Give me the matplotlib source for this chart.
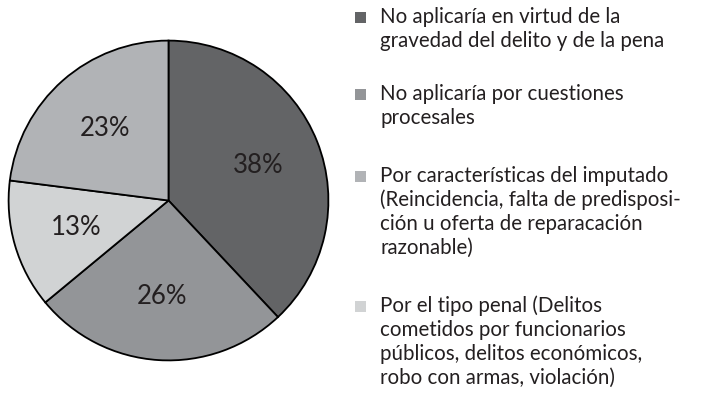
import matplotlib.pyplot as plt
from matplotlib.patches import Rectangle

plt.rcParams['font.family'] = ['Lato', 'DejaVu Sans']

# shares in the order they go round the pie (clockwise from 12 o'clock)
valores = [38, 26, 13, 23]
colores = ['#636466', '#939598', '#d1d3d4', '#b1b3b6']

# legend entries, top to bottom, already broken into lines
leyenda = [
    ['No aplicaría en virtud de la', 'gravedad del delito y de la pena'],
    ['No aplicaría por cuestiones', 'procesales'],
    ['Por características del imputado', '(Reincidencia, falta de predisposi-',
     'ción u oferta de reparacación', 'razonable)'],
    ['Por el tipo penal (Delitos', 'cometidos por funcionarios',
     'públicos, delitos económicos,', 'robo con armas, violación)'],
]
# which slice each legend entry belongs to
leyenda_idx = [0, 1, 3, 2]

W, H = 708, 396
TXT = '#231f20'

fig = plt.figure(figsize=(W / 100, H / 100), dpi=100)

cx, cy, r = 168.5, 200.5, 161.5
ax = fig.add_axes([(cx - r) / W, (H - cy - r) / H, 2 * r / W, 2 * r / H])
wedges, _, pcts = ax.pie(valores, colors=colores, startangle=90, counterclock=False,
                         radius=1, autopct='%d%%', pctdistance=0.6,
                         wedgeprops=dict(edgecolor='black', linewidth=1.3),
                         textprops=dict(color=TXT, fontsize=18.5))
ax.set_xlim(-1.01, 1.01)
ax.set_ylim(-1.01, 1.01)
ax.set_aspect('equal')
ax.axis('off')

# legend drawn by hand so the square sits on the first line
baselines = [22.7, 100, 181.7, 311.7]
paso = 24.2
for k, lineas in enumerate(leyenda):
    b = baselines[k]
    sq = Rectangle((355 / W, (H - b) / H), 11 / W, 11 / H,
                   transform=fig.transFigure, facecolor=colores[leyenda_idx[k]],
                   edgecolor='none')
    fig.add_artist(sq)
    for i, linea in enumerate(lineas):
        fig.text(380 / W, (H - b - i * paso) / H, linea, fontsize=14.8,
                 color=TXT, va='baseline', ha='left')

fig.savefig('out.png', dpi=100)
